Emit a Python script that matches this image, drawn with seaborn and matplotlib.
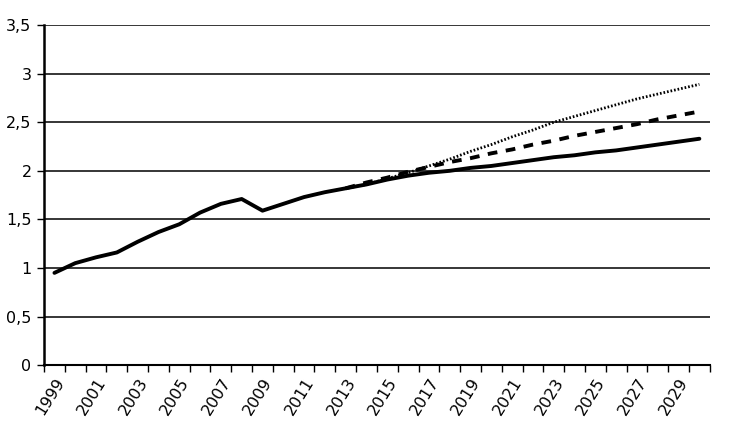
import numpy as np
import pandas as pd
import matplotlib
matplotlib.use('Agg')
import matplotlib.pyplot as plt
import seaborn as sns

years = list(range(1999, 2031))

# historic + base projection (solid), 1999..2030
base = [0.95, 1.05, 1.11, 1.16, 1.27, 1.37, 1.45, 1.57, 1.66, 1.71, 1.59, 1.66,
        1.73, 1.78, 1.82, 1.86, 1.91, 1.95, 1.98, 2.00, 2.03, 2.05, 2.08, 2.11,
        2.14, 2.16, 2.19, 2.21, 2.24, 2.27, 2.30, 2.33]
proj_years = list(range(2013, 2031))
dashed = [1.82, 1.88, 1.93, 1.99, 2.04, 2.09, 2.13, 2.18, 2.22, 2.27, 2.31,
          2.36, 2.40, 2.44, 2.48, 2.53, 2.57, 2.61]
dotted = [1.82, 1.86, 1.92, 1.98, 2.05, 2.12, 2.20, 2.27, 2.35, 2.42, 2.50,
          2.56, 2.62, 2.68, 2.74, 2.79, 2.84, 2.89]
tick_labels = [str(y) for y in years[::2]]
ytick_labels = ['0', '0,5', '1', '1,5', '2', '2,5', '3', '3,5']

sns.set_style('white')
plt.rcParams['font.family'] = ['Liberation Sans Narrow', 'DejaVu Sans']
plt.rcParams['text.color'] = 'black'
plt.rcParams['xtick.color'] = 'black'
plt.rcParams['ytick.color'] = 'black'

fig = plt.figure(figsize=(7.34, 4.47), dpi=100)
ax = fig.add_axes([0.06, 0.183, 0.907, 0.761])

idx = {y: i for i, y in enumerate(years)}
df_base = pd.DataFrame({'x': [idx[y] for y in years], 'v': base})
df_dash = pd.DataFrame({'x': [idx[y] for y in proj_years], 'v': dashed})
df_dot = pd.DataFrame({'x': [idx[y] for y in proj_years], 'v': dotted})

sns.lineplot(data=df_dot, x='x', y='v', ax=ax, color='black', lw=2.0,
             linestyle=(0, (0.6, 0.7)))
sns.lineplot(data=df_dash, x='x', y='v', ax=ax, color='black', lw=2.8,
             linestyle=(0, (2.5, 2.2)))
sns.lineplot(data=df_base, x='x', y='v', ax=ax, color='black', lw=2.8)

ax.set_xlim(-0.5, 31.5)
ax.set_ylim(0, 3.5)
ax.set_yticks(np.arange(0, 3.51, 0.5))
ax.set_yticklabels(ytick_labels, fontsize=11.5)
for yv in np.arange(0.5, 3.51, 0.5):
    ax.axhline(yv, color='black', lw=1.1, zorder=0)

ax.set_xticks(np.arange(-0.5, 32, 1))
ax.set_xticklabels([])
ax.set_xticks(np.arange(0, 32, 2), minor=True)
ax.set_xticklabels(tick_labels, minor=True, rotation=58, ha='right',
                   rotation_mode='anchor', fontsize=11.5)
ax.tick_params(axis='x', which='major', direction='out', length=5, width=1, color='black', bottom=True)
ax.tick_params(axis='x', which='minor', length=0, pad=7)
ax.tick_params(axis='y', direction='out', length=5, width=1, color='black', left=True, pad=4)

for s in ['top', 'right']:
    ax.spines[s].set_visible(False)
ax.spines['left'].set_color('black')
ax.spines['left'].set_linewidth(1.8)
ax.spines['bottom'].set_color('black')
ax.spines['bottom'].set_linewidth(1.5)
ax.set_xlabel('')
ax.set_ylabel('')

fig.savefig('out.png', dpi=100)
